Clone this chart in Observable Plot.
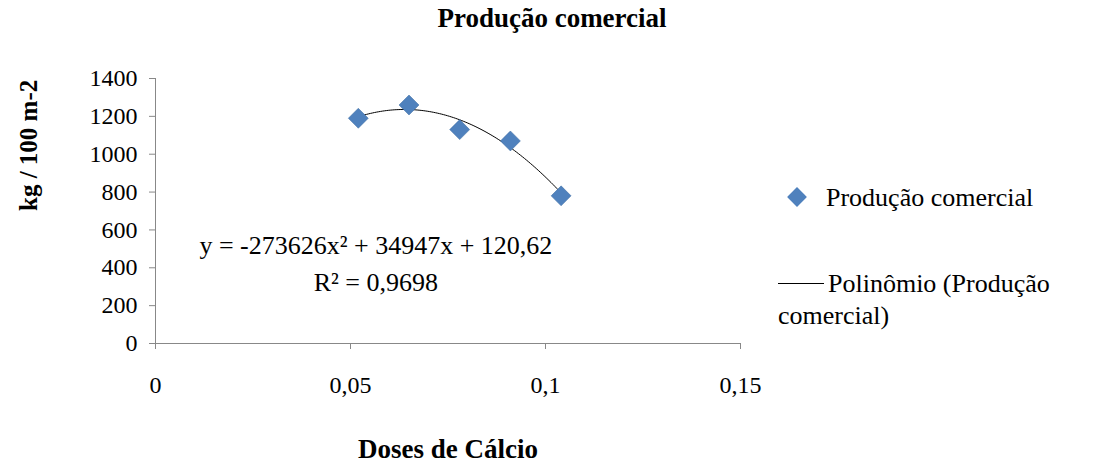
<!DOCTYPE html>
<html><head><meta charset="utf-8">
<script src="https://cdn.jsdelivr.net/npm/d3@7"></script>
<script src="https://cdn.jsdelivr.net/npm/@observablehq/plot@0.6"></script>
<style>
body{margin:0;background:#fff;font-family:"Times New Roman","Liberation Serif","DejaVu Serif",serif;}
#wrap{position:relative;width:1096px;height:465px;overflow:hidden;}
#title{position:absolute;top:3px;left:0;width:1096px;text-align:center;font-weight:bold;font-size:27px;margin-left:4px;}
#chart{position:absolute;top:45px;left:0;}
.leg{position:absolute;font-size:26px;line-height:32px;}
svg text, svg{font-family:"Times New Roman","Liberation Serif","DejaVu Serif",serif !important;}
</style></head><body>
<div id="wrap">
<div id="title">Produção comercial</div>
<div id="chart"></div>
<div class="leg" style="left:790px;top:182px;"><span style="display:inline-block;width:14px;height:14px;background:#4f81bd;transform:rotate(45deg);margin-right:22px;vertical-align:2px;"></span>Produção comercial</div>
<div class="leg" style="left:778px;top:268px;"><span style="display:inline-block;width:46px;height:1px;background:#000;vertical-align:8px;margin-right:4px;"></span>Polinômio (Produção<br>comercial)</div>
</div>
<script>
// valores
const doses = [0.052, 0.065, 0.078, 0.091, 0.104];
const producao = [1190, 1260, 1130, 1070, 780];
// coeficientes da linha de tendência (a, b, c)
const coef = [-273626, 34947, 120.62];
const xTicks = [0, 0.05, 0.1, 0.15];
const yTicks = [0, 200, 400, 600, 800, 1000, 1200, 1400];

const pts = doses.map((x, i) => ({x, y: producao[i]}));
const trend = d3.range(0, 101).map(i => {
  const x = doses[0] + (doses[4] - doses[0]) * i / 100;
  return {x, y: coef[0] * x * x + coef[1] * x + coef[2]};
});
const fmt = d => String(d).replace(".", ",");

const plot = Plot.plot({
  width: 1096, height: 420,
  marginLeft: 155, marginRight: 356, marginTop: 33, marginBottom: 122,
  style: {fontFamily: "'Times New Roman', 'Liberation Serif', serif", fontSize: "24px", color: "#000", overflow: "visible"},
  x: {domain: [0, 0.15], ticks: xTicks, tickFormat: fmt, tickSize: 6, tickPadding: 26, label: null},
  y: {domain: [0, 1400], ticks: yTicks, tickFormat: d => String(d), tickSize: 6, tickPadding: 12, label: null},
  marks: [
    Plot.ruleY([0], {stroke: "#888"}),
    Plot.ruleX([0], {stroke: "#888"}),
    Plot.line(trend, {x: "x", y: "y", stroke: "#000", strokeWidth: 1}),
    Plot.dot(pts, {x: "x", y: "y", symbol: "diamond2", r: 9, fill: "#4f81bd", stroke: "#3a6aa0", strokeWidth: 0.5}),
    Plot.text(["y = -273626x² + 34947x + 120,62"], {x: 0.0565, y: 518, fontSize: 26, fill: "#000"}),
    Plot.text(["R² = 0,9698"], {x: 0.0565, y: 322, fontSize: 26, fill: "#000"}),
    Plot.text(["kg / 100 m-2"], {frameAnchor: "left", dx: -127, rotate: -90, fontWeight: "bold", fontSize: 25, fill: "#000"}),
    Plot.text(["Doses de Cálcio"], {frameAnchor: "bottom", dy: 114, fontWeight: "bold", fontSize: 27, fill: "#000"})
  ]
});
plot.querySelectorAll("[aria-label='x-axis tick'] path, [aria-label='y-axis tick'] path").forEach(p => p.setAttribute("stroke", "#888"));
document.getElementById("chart").appendChild(plot);
</script>
</body></html>
